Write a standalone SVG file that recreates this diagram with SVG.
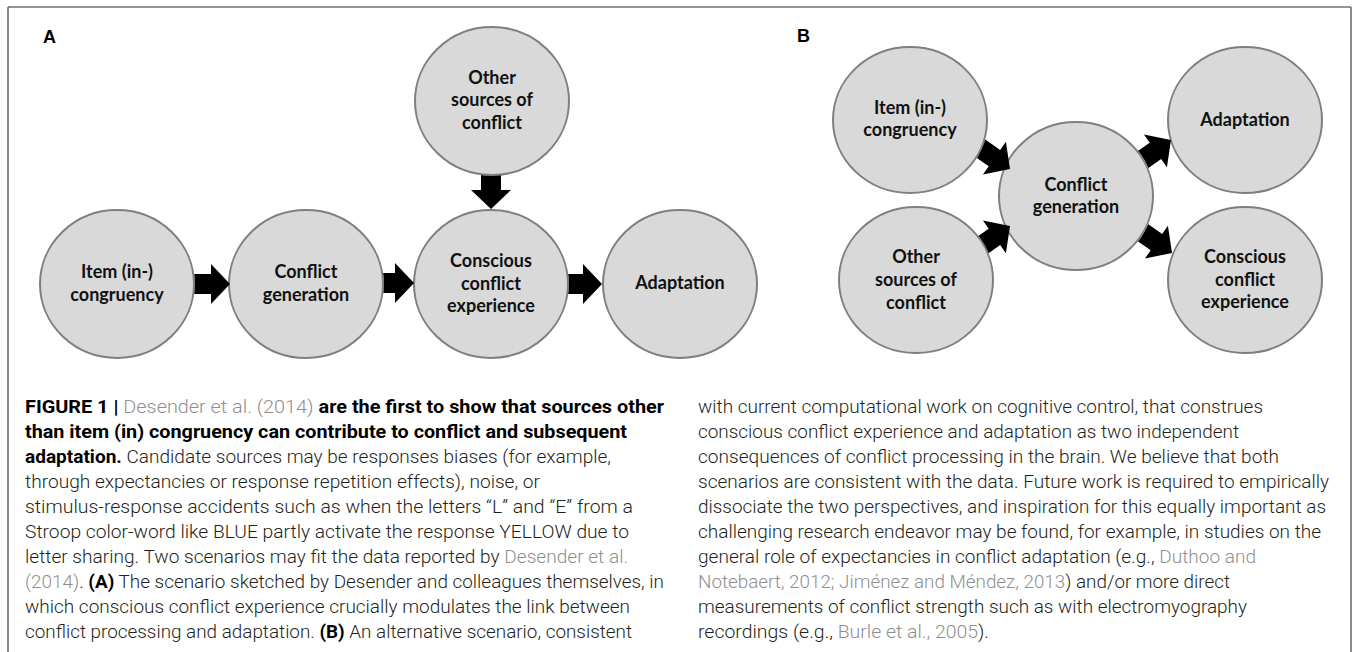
<svg xmlns="http://www.w3.org/2000/svg" xmlns:xlink="http://www.w3.org/1999/xlink" width="1355" height="652" viewBox="0 0 1355 652">
<style>
.node ellipse{fill:#d9d9d9;stroke:#7f7f7f;stroke-width:2}
.node text{font-family:Lato,"Open Sans","Liberation Sans",sans-serif;font-weight:700;font-size:18px;fill:#111;text-anchor:middle}
.panel{font-family:"Liberation Sans",Arial,sans-serif;font-weight:700;font-size:18px;fill:#000}
.arrow{fill:#000}
.cap{font-family:Roboto,"Liberation Sans",sans-serif;font-weight:300;font-size:18px;fill:#231f20}
.cap .b{font-weight:700;fill:#000}
.cap .lk{fill:#8f8f8f}
.frame{stroke:#6f6f6f;stroke-width:1.6;fill:none}
</style>
<defs>
<path id="arr" d="M0,0 L-19,-20 L-19,-10 L-48,-10 L-48,10 L-19,10 L-19,20 Z"/>
<mask id="m-a-item" maskUnits="userSpaceOnUse" x="0" y="0" width="1355" height="652"><rect width="1355" height="652" fill="#fff"/><ellipse cx="117" cy="284" rx="78" ry="75" fill="#000"/></mask>
<mask id="m-a-gen" maskUnits="userSpaceOnUse" x="0" y="0" width="1355" height="652"><rect width="1355" height="652" fill="#fff"/><ellipse cx="306" cy="284" rx="78" ry="75" fill="#000"/></mask>
<mask id="m-a-cons" maskUnits="userSpaceOnUse" x="0" y="0" width="1355" height="652"><rect width="1355" height="652" fill="#fff"/><ellipse cx="491" cy="284" rx="78" ry="75" fill="#000"/></mask>
<mask id="m-a-other" maskUnits="userSpaceOnUse" x="0" y="0" width="1355" height="652"><rect width="1355" height="652" fill="#fff"/><ellipse cx="492" cy="101" rx="78" ry="75" fill="#000"/></mask>
<mask id="m-b-item" maskUnits="userSpaceOnUse" x="0" y="0" width="1355" height="652"><rect width="1355" height="652" fill="#fff"/><ellipse cx="910" cy="120" rx="78" ry="74" fill="#000"/></mask>
<mask id="m-b-other" maskUnits="userSpaceOnUse" x="0" y="0" width="1355" height="652"><rect width="1355" height="652" fill="#fff"/><ellipse cx="916" cy="280" rx="78" ry="74" fill="#000"/></mask>
<mask id="m-b-gen" maskUnits="userSpaceOnUse" x="0" y="0" width="1355" height="652"><rect width="1355" height="652" fill="#fff"/><ellipse cx="1076" cy="196" rx="78" ry="75" fill="#000"/></mask>
</defs>
<rect width="1355" height="652" fill="#fff"/>
<g id="frame">
<line class="frame" x1="8" y1="7" x2="1351" y2="7"/>
<line class="frame" x1="8" y1="7" x2="8" y2="652" stroke="#333"/>
<line class="frame" x1="1351" y1="7" x2="1351" y2="652"/>
</g>
<text class="panel" x="43" y="43">A</text>
<text class="panel" x="797" y="42">B</text>

<g id="a-item" class="node"><ellipse cx="117" cy="284" rx="77" ry="74"/><text x="117" y="278">Item (in-)</text><text x="117" y="301">congruency</text></g>
<g id="a-gen" class="node"><ellipse cx="306" cy="284" rx="77" ry="74"/><text x="306" y="278">Conflict</text><text x="306" y="301">generation</text></g>
<g id="a-cons" class="node"><ellipse cx="491" cy="284" rx="77" ry="74"/><text x="491" y="267">Conscious</text><text x="491" y="290">conflict</text><text x="491" y="312">experience</text></g>
<g id="a-adapt" class="node"><ellipse cx="680" cy="284" rx="77" ry="74"/><text x="680" y="289">Adaptation</text></g>
<g id="a-other" class="node"><ellipse cx="492" cy="101" rx="77" ry="74"/><text x="492" y="84">Other</text><text x="492" y="106">sources of</text><text x="492" y="129">conflict</text></g>

<g id="b-item" class="node"><ellipse cx="910" cy="120" rx="77" ry="73"/><text x="910" y="114">Item (in-)</text><text x="910" y="136">congruency</text></g>
<g id="b-other" class="node"><ellipse cx="916" cy="280" rx="77" ry="73"/><text x="916" y="263">Other</text><text x="916" y="286">sources of</text><text x="916" y="309">conflict</text></g>
<g id="b-gen" class="node"><ellipse cx="1076" cy="196" rx="77" ry="74"/><text x="1076" y="191">Conflict</text><text x="1076" y="213">generation</text></g>
<g id="b-adapt" class="node"><ellipse cx="1245" cy="120" rx="77" ry="73"/><text x="1245" y="126">Adaptation</text></g>
<g id="b-cons" class="node"><ellipse cx="1245" cy="280" rx="77" ry="73"/><text x="1245" y="263">Conscious</text><text x="1245" y="286">conflict</text><text x="1245" y="308">experience</text></g>

<g id="connectors" class="arrow">
<g mask="url(#m-a-item)"><use href="#arr" xlink:href="#arr" transform="translate(230,284)"/></g>
<g mask="url(#m-a-gen)"><use href="#arr" xlink:href="#arr" transform="translate(414,283)"/></g>
<g mask="url(#m-a-cons)"><use href="#arr" xlink:href="#arr" transform="translate(602,284)"/></g>
<g mask="url(#m-a-other)"><use href="#arr" xlink:href="#arr" transform="translate(491,209) rotate(90)"/></g>
<g mask="url(#m-b-item)"><use href="#arr" xlink:href="#arr" transform="translate(1010,169) rotate(35)"/></g>
<g mask="url(#m-b-other)"><use href="#arr" xlink:href="#arr" transform="translate(1010,226) rotate(-35)"/></g>
<g mask="url(#m-b-gen)"><use href="#arr" xlink:href="#arr" transform="translate(1171,140) rotate(-35)"/></g>
<g mask="url(#m-b-gen)"><use href="#arr" xlink:href="#arr" transform="translate(1172,253) rotate(35)"/></g>
</g>

<g id="caption" class="cap">
<text x="25" y="413" textLength="639" lengthAdjust="spacingAndGlyphs"><tspan class="b">FIGURE 1 | </tspan><tspan class="lk">Desender et al. (2014)</tspan><tspan class="b"> are the first to show that sources other</tspan></text>
<text x="25" y="438" textLength="602" lengthAdjust="spacingAndGlyphs"><tspan class="b">than item (in) congruency can contribute to conflict and subsequent</tspan></text>
<text x="25" y="463" textLength="586" lengthAdjust="spacingAndGlyphs"><tspan class="b">adaptation.</tspan> Candidate sources may be responses biases (for example,</text>
<text x="25" y="488" textLength="515" lengthAdjust="spacingAndGlyphs">through expectancies or response repetition effects), noise, or</text>
<text x="25" y="513" textLength="608" lengthAdjust="spacingAndGlyphs">stimulus-response accidents such as when the letters “L” and “E” from a</text>
<text x="25" y="538" textLength="604" lengthAdjust="spacingAndGlyphs">Stroop color-word like BLUE partly activate the response YELLOW due to</text>
<text x="25" y="563" textLength="603" lengthAdjust="spacingAndGlyphs">letter sharing. Two scenarios may fit the data reported by <tspan class="lk">Desender et al.</tspan></text>
<text x="25" y="588" textLength="639" lengthAdjust="spacingAndGlyphs"><tspan class="lk">(2014)</tspan>. <tspan class="b">(A)</tspan> The scenario sketched by Desender and colleagues themselves, in</text>
<text x="25" y="613" textLength="605" lengthAdjust="spacingAndGlyphs">which conscious conflict experience crucially modulates the link between</text>
<text x="25" y="638" textLength="607" lengthAdjust="spacingAndGlyphs">conflict processing and adaptation. <tspan class="b">(B)</tspan> An alternative scenario, consistent</text>

<text x="698" y="413" textLength="565" lengthAdjust="spacingAndGlyphs">with current computational work on cognitive control, that construes</text>
<text x="698" y="438" textLength="541" lengthAdjust="spacingAndGlyphs">conscious conflict experience and adaptation as two independent</text>
<text x="698" y="463" textLength="581" lengthAdjust="spacingAndGlyphs">consequences of conflict processing in the brain. We believe that both</text>
<text x="698" y="488" textLength="631" lengthAdjust="spacingAndGlyphs">scenarios are consistent with the data. Future work is required to empirically</text>
<text x="698" y="513" textLength="628" lengthAdjust="spacingAndGlyphs">dissociate the two perspectives, and inspiration for this equally important as</text>
<text x="698" y="538" textLength="623" lengthAdjust="spacingAndGlyphs">challenging research endeavor may be found, for example, in studies on the</text>
<text x="698" y="563" textLength="558" lengthAdjust="spacingAndGlyphs">general role of expectancies in conflict adaptation (e.g., <tspan class="lk">Duthoo and</tspan></text>
<text x="698" y="588" textLength="532" lengthAdjust="spacingAndGlyphs"><tspan class="lk">Notebaert, 2012; Jiménez and Méndez, 2013</tspan>) and/or more direct</text>
<text x="698" y="613" textLength="549" lengthAdjust="spacingAndGlyphs">measurements of conflict strength such as with electromyography</text>
<text x="698" y="638" textLength="291" lengthAdjust="spacingAndGlyphs">recordings (e.g., <tspan class="lk">Burle et al., 2005</tspan>).</text>
</g>
</svg>
